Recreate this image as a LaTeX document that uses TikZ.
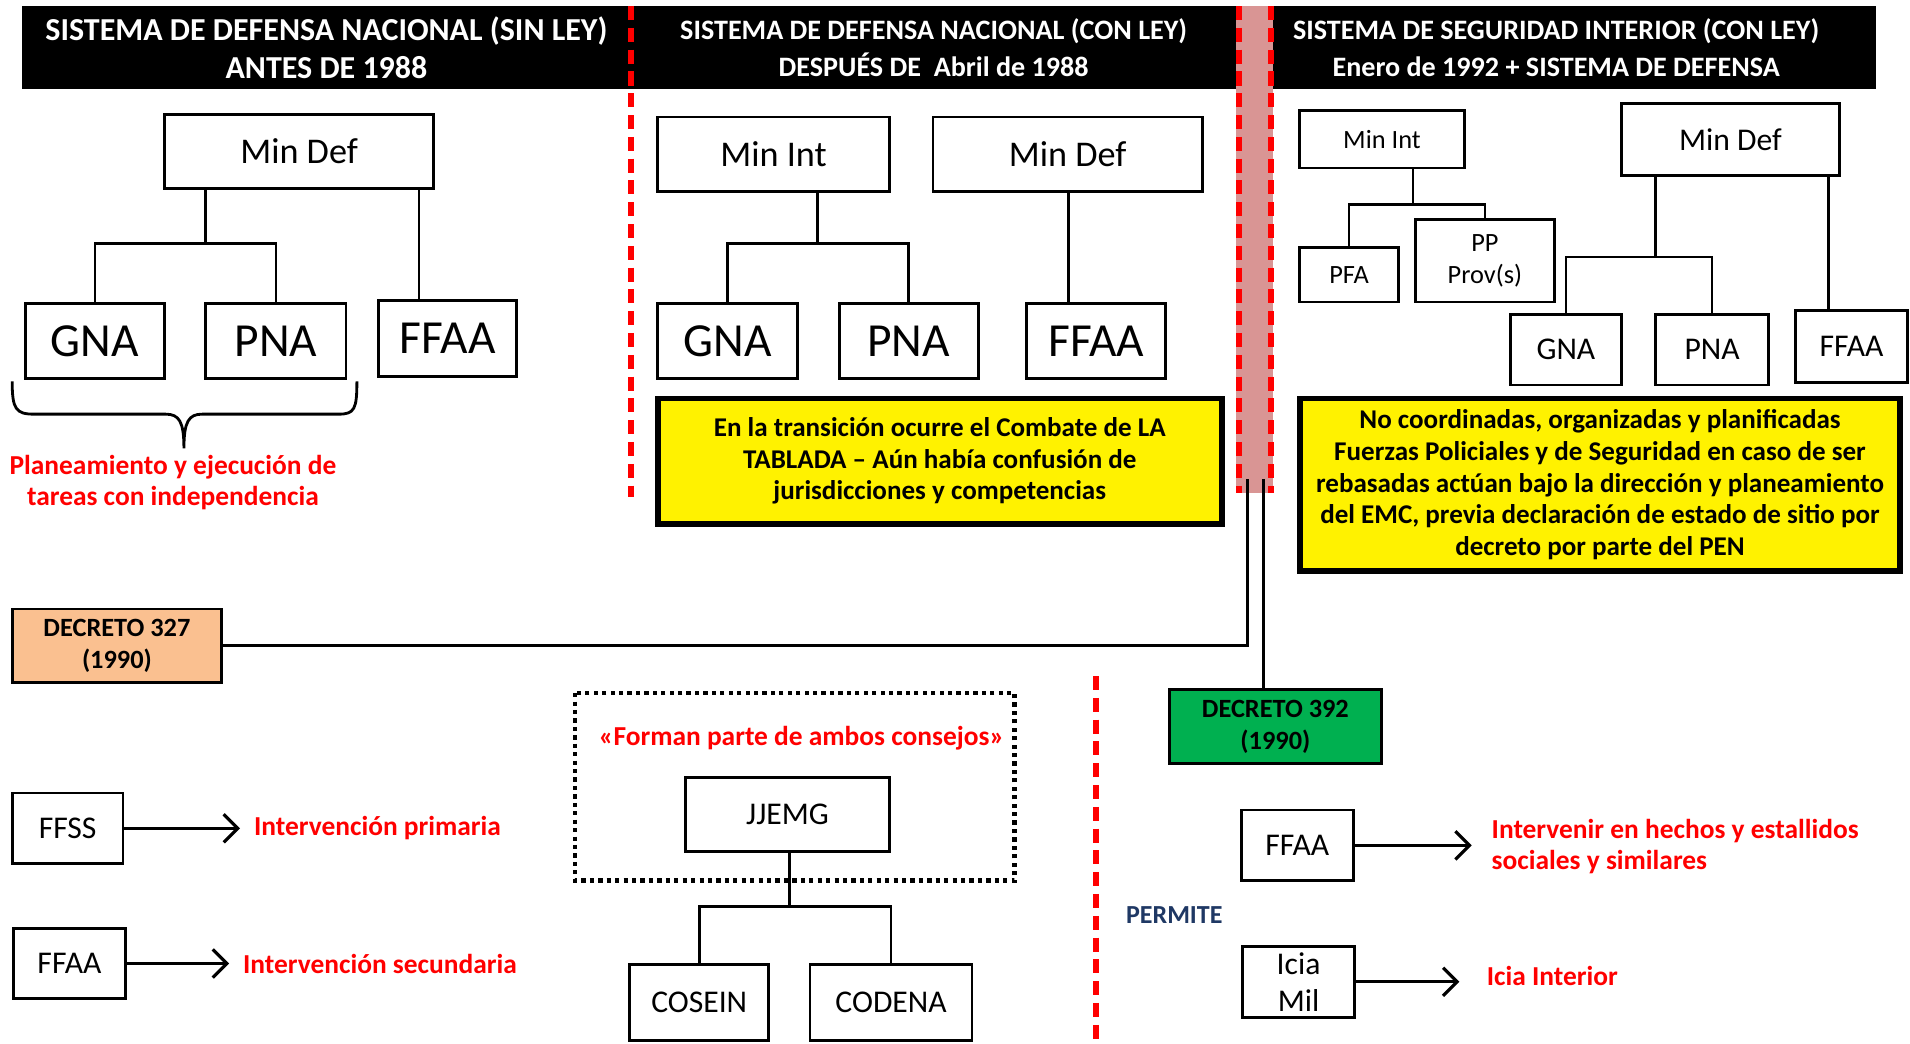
\documentclass[tikz,border=0pt]{standalone}
\usepackage{fontspec}
\setmainfont{Carlito}
\usepackage{tikz}
\usetikzlibrary{arrows.meta}

\definecolor{bandpink}{RGB}{217,149,148}
\definecolor{decorange}{RGB}{250,192,144}
\definecolor{decgreen}{RGB}{0,176,80}
\definecolor{navy}{RGB}{31,56,100}

\newdimen\ux
\ux=0.1218mm

\tikzset{
  rect/.style n args={4}{minimum width={(#3-#1)*\ux}, minimum height={(#4-#2)*\ux},
    at={({(#1+#3)/2},{(#2+#4)/2})}},
  box/.style={draw, line width=0.8pt, inner sep=0pt, align=center},
  hdr/.style={fill=black, inner sep=0pt, text=white, align=center, font=\bfseries\fontsize{8}{10.5}\selectfont},
  note/.style={draw, line width=1.6pt, fill=yellow, inner sep=0pt, align=center, font=\bfseries\fontsize{7.7}{9}\selectfont},
  dec/.style={box, font=\bfseries\fontsize{7.5}{9}\selectfont},
  txtbig/.style={font=\fontsize{13.5}{16}\selectfont},
  txtmid/.style={font=\fontsize{10.3}{12}\selectfont},
  txtsml/.style={font=\fontsize{9}{10.8}\selectfont},
  txtxs/.style={font=\fontsize{7.5}{9.2}\selectfont},
  redtxt/.style={text=red, inner sep=0pt, font=\bfseries\fontsize{7.8}{9}\selectfont},
  link/.style={line width=0.8pt},
  arr/.style={line width=0.9pt, -{Straight Barb[length=4pt,width=8pt]}},
  redline/.style={red, line width=1.7pt, dash pattern=on 4pt off 2.2pt},
}

\begin{document}
\begin{tikzpicture}[x=0.1218mm, y=-0.1218mm]
\useasboundingbox (0,0) rectangle (1568,857);

% headers
\node[hdr, font=\bfseries\fontsize{9.1}{10.8}\selectfont, rect={18}{5}{518}{73}] (hdrA) {SISTEMA DE DEFENSA NACIONAL (SIN LEY)\\ANTES DE 1988};
\node[hdr, rect={518}{5}{1015}{73}] (hdrB) {SISTEMA DE DEFENSA NACIONAL (CON LEY)\\DESPUÉS DE~ Abril de 1988};
\node[hdr, rect={1015}{5}{1540}{73}] (hdrC) {SISTEMA DE SEGURIDAD INTERIOR (CON LEY)\\Enero de 1992 + SISTEMA DE DEFENSA};
\draw[redline] (518,5) -- (518,408);
\fill[bandpink] (1015,5) rectangle (1045,405);
\draw[redline] (1017,5) -- (1017,405);
\draw[redline] (1043,5) -- (1043,405);

% sin ley
\node[box, txtmid, rect={135}{94}{356}{155}] (mindefA) {Min Def};
\node[box, txtbig, rect={21}{249}{135}{311}] (gnaA) {GNA};
\node[box, txtbig, rect={169}{249}{284}{311}] (pnaA) {PNA};
\node[box, txtbig, rect={311}{247}{424}{309}] (ffaaA) {FFAA};
\coordinate (jA) at (169,200);
\coordinate (fA) at (344,155);
\draw[link] (jA) -- (jA |- mindefA.south);
\draw[link] (gnaA.north) |- (jA) -| (pnaA.north);
\draw[link] (fA) -- (fA |- ffaaA.north);
\draw[line width=0.8pt] (10,313) .. controls (10,336) and (13,340) .. (28,340) -- (136,340)
  .. controls (147,340) and (151,346) .. (151,368) .. controls (151,346) and (155,340) .. (166,340)
  -- (278,340) .. controls (291,340) and (293,336) .. (293,313);
\node[redtxt, align=center] (planA) at (142,396) {Planeamiento y ejecución de\\tareas con independencia};

% con ley
\node[box, txtmid, rect={540}{96}{730}{157}] (minintB) {Min Int};
\node[box, txtmid, rect={766}{96}{987}{157}] (mindefB) {Min Def};
\node[box, txtbig, rect={540}{249}{655}{311}] (gnaB) {GNA};
\node[box, txtbig, rect={689}{249}{803}{311}] (pnaB) {PNA};
\node[box, txtbig, rect={843}{249}{957}{311}] (ffaaB) {FFAA};
\coordinate (jB) at (671,200);
\coordinate (fB) at (877,157);
\draw[link] (jB) -- (jB |- minintB.south);
\draw[link] (gnaB.north) |- (jB) -| (pnaB.north);
\draw[link] (fB) -- (fB |- ffaaB.north);
\node[note, rect={540}{327}{1003}{430}] (tablada) {En la transición ocurre el Combate de LA\\TABLADA – Aún había confusión de\\jurisdicciones y competencias};

% seguridad interior
\node[box, txtxs, rect={1067}{91}{1202}{138}] (minintC) {Min Int};
\node[box, txtsml, rect={1331}{85}{1510}{144}] (mindefC) {Min Def};
\node[box, txtxs, rect={1067}{203}{1148}{248}] (pfa) {PFA};
\node[box, txtxs, rect={1162}{180}{1276}{248}] (ppprov) {PP\\Prov(s)};
\node[box, txtsml, rect={1240}{258}{1331}{316}] (gnaC) {GNA};
\node[box, txtsml, rect={1359}{258}{1452}{316}] (pnaC) {PNA};
\node[box, txtsml, rect={1474}{255}{1566}{314}] (ffaaC) {FFAA};
\coordinate (jC) at (1160,168);
\coordinate (jD) at (1359,211);
\coordinate (fC) at (1501,144);
\draw[link] (jC) -- (jC |- minintC.south);
\draw[link] (pfa.north) |- (jC) -| (ppprov.north);
\draw[link] (jD) -- (jD |- mindefC.south);
\draw[link] (gnaC.north) |- (jD) -| (pnaC.north);
\draw[link] (fC) -- (fC |- ffaaC.north);
\node[note, rect={1067}{327}{1560}{469}] (rebasadas) {No coordinadas, organizadas y planificadas\\Fuerzas Policiales y de Seguridad en caso de ser\\rebasadas actúan bajo la dirección y planeamiento\\del EMC, previa declaración de estado de sitio por\\decreto por parte del PEN};

% decretos
\node[dec, fill=decorange, rect={10}{500}{182}{560}] (decA) {DECRETO 327\\(1990)};
\node[dec, fill=decgreen, rect={960}{566}{1134}{627}] (decB) {DECRETO 392\\(1990)};
\coordinate (bandA) at (1024,393);
\coordinate (bandB) at (1037,393);
\draw[link] (decA.east) -| (bandA);
\draw[link] (decB.north -| bandB) -- (bandB);

\node[box, txtsml, rect={10}{651}{101}{709}] (ffss) {FFSS};
\node[redtxt, anchor=west] (prim) at (208,680) {Intervención primaria};
\draw[arr, shorten >=3.8pt] (ffss.east) -- (prim.west);
\node[box, txtsml, rect={11}{762}{103}{820}] (ffaaD) {FFAA};
\node[redtxt, anchor=west] (secu) at (199,791) {Intervención secundaria};
\draw[arr, shorten >=3.8pt] (ffaaD.east) -- (secu.west);

% consejos
\draw[line width=1.3pt, dash pattern=on 1.2pt off 1.2pt] (472,569) rectangle (833,723);
\node[redtxt] (ambos) at (658,606) {«Forman parte de ambos consejos»};
\node[box, txtsml, rect={563}{638}{730}{699}] (jjemg) {JJEMG};
\node[box, txtsml, rect={517}{792}{631}{854}] (cosein) {COSEIN};
\node[box, txtsml, rect={665}{792}{798}{854}] (codena) {CODENA};
\coordinate (jE) at (648,744);
\draw[link] (jE) -- (jE |- jjemg.south);
\draw[link] (cosein.north) |- (jE) -| (codena.north);

% permite
\draw[redline] (900,555) -- (900,857);
\node[text=navy, font=\bfseries\fontsize{7.4}{9}\selectfont] (permite) at (964,751) {PERMITE};
\node[box, txtsml, rect={1019}{665}{1111}{723}] (ffaaE) {FFAA};
\node[redtxt, anchor=west, align=left] (estall) at (1224,695) {Intervenir en hechos y estallidos\\sociales y similares};
\draw[arr, shorten >=5.5pt] (ffaaE.east) -- (ffaaE.east -| estall.west);
\node[box, font=\fontsize{9}{10.6}\selectfont, rect={1020}{777}{1112}{835}] (iciamil) {Icia\\Mil};
\node[redtxt, anchor=west] (iciaint) at (1220,801) {Icia Interior};
\draw[arr, shorten >=7.6pt] (iciamil.east) -- (iciamil.east -| iciaint.west);
\end{tikzpicture}
\end{document}
